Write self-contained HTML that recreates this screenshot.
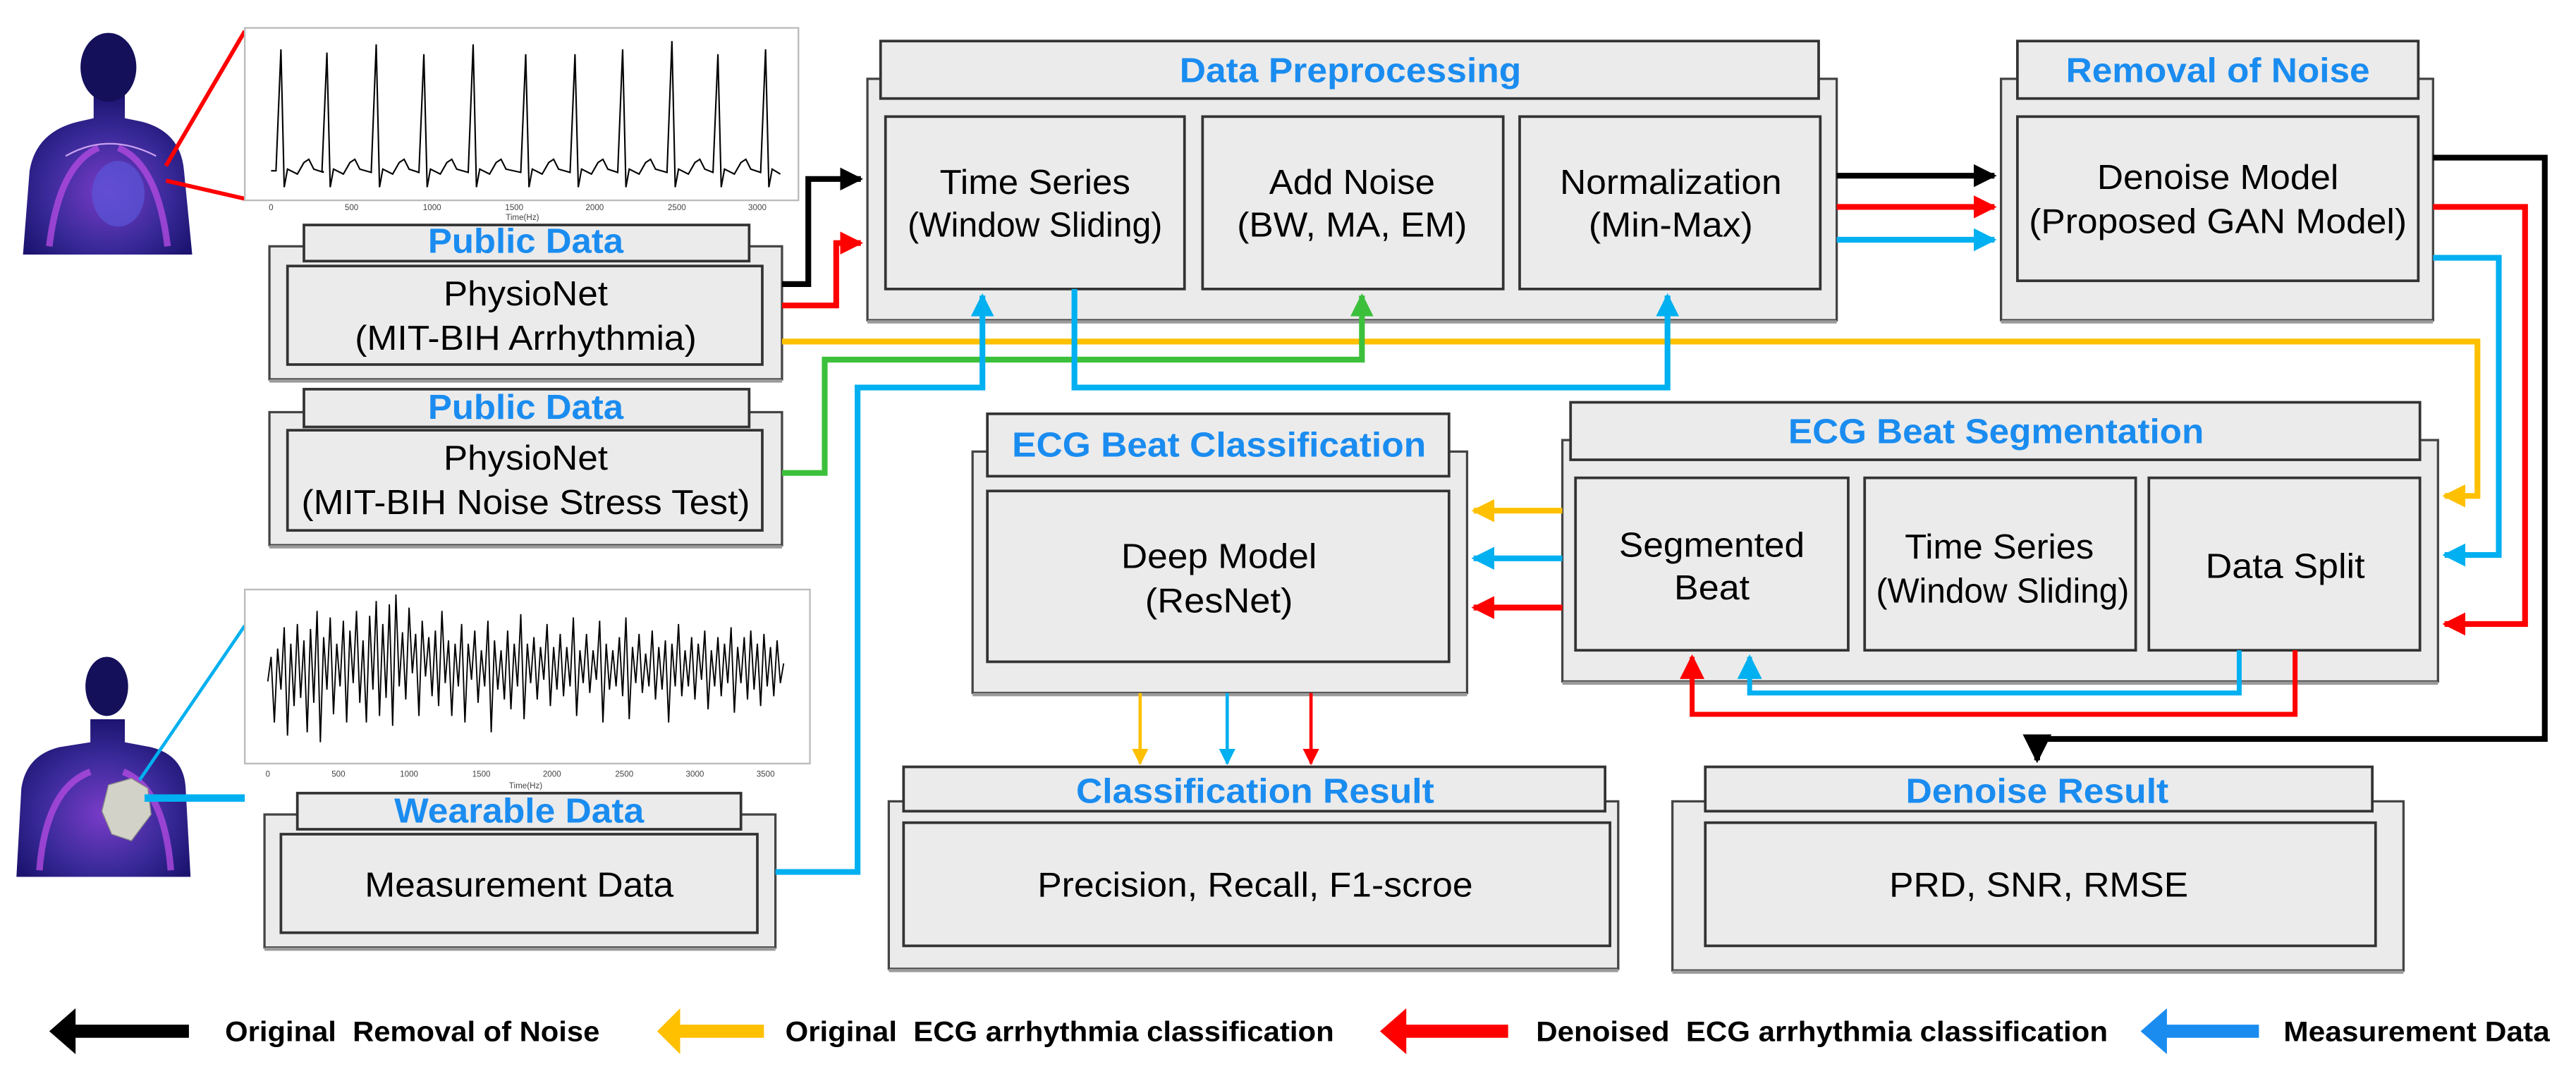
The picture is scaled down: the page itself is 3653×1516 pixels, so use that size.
<!DOCTYPE html>
<html><head><meta charset="utf-8"><style>
html,body{margin:0;padding:0;background:#fff;width:3653px;height:1516px;overflow:hidden}
svg{display:block}
.o{fill:#ebebeb;stroke:#444;stroke-width:1.4}
.t{fill:#ebebeb;stroke:#333;stroke-width:1.6}
.sh{fill:#9a9a9a}
.bt{font-family:"Liberation Sans",sans-serif;font-size:21px;fill:#000;text-anchor:middle}
.tt{font-family:"Liberation Sans",sans-serif;font-size:21px;font-weight:bold;fill:#1a8cf0;text-anchor:middle}
.lg{font-family:"Liberation Sans",sans-serif;font-size:17px;font-weight:bold;fill:#000}
.ax{font-family:"Liberation Sans",sans-serif;font-size:5px;fill:#444;text-anchor:middle}
.c{fill:none;stroke-width:3.5;stroke-linejoin:miter}
</style></head><body>
<svg width="3653" height="1516" viewBox="0 0 1568 651" preserveAspectRatio="none" xmlns="http://www.w3.org/2000/svg">
<defs>
<marker id="mk" viewBox="0 0 10 10" refX="9" refY="5" markerWidth="4" markerHeight="4" orient="auto"><path d="M0,0L10,5L0,10z" fill="#000"/></marker>
<marker id="mr" viewBox="0 0 10 10" refX="9" refY="5" markerWidth="4" markerHeight="4" orient="auto"><path d="M0,0L10,5L0,10z" fill="#ff0000"/></marker>
<marker id="my" viewBox="0 0 10 10" refX="9" refY="5" markerWidth="4" markerHeight="4" orient="auto"><path d="M0,0L10,5L0,10z" fill="#ffc000"/></marker>
<marker id="mb" viewBox="0 0 10 10" refX="9" refY="5" markerWidth="4" markerHeight="4" orient="auto"><path d="M0,0L10,5L0,10z" fill="#00b0f0"/></marker>
<marker id="mg" viewBox="0 0 10 10" refX="9" refY="5" markerWidth="4" markerHeight="4" orient="auto"><path d="M0,0L10,5L0,10z" fill="#3cc03c"/></marker>
<marker id="mb2" viewBox="0 0 10 10" refX="9" refY="5" markerWidth="5" markerHeight="6" orient="auto"><path d="M0,0L10,5L0,10z" fill="#00b0f0"/></marker>
<marker id="mr2" viewBox="0 0 10 10" refX="9" refY="5" markerWidth="5" markerHeight="6" orient="auto"><path d="M0,0L10,5L0,10z" fill="#ff0000"/></marker>
<marker id="my2" viewBox="0 0 10 10" refX="9" refY="5" markerWidth="5" markerHeight="6" orient="auto"><path d="M0,0L10,5L0,10z" fill="#ffc000"/></marker>
<marker id="mk2" viewBox="0 0 10 10" refX="9" refY="5" markerWidth="5" markerHeight="6" orient="auto"><path d="M0,0L10,5L0,10z" fill="#000"/></marker>
<radialGradient id="bod" cx="0.5" cy="0.6" r="0.6"><stop offset="0" stop-color="#7a3cc8"/><stop offset="0.6" stop-color="#3a2a9a"/><stop offset="1" stop-color="#1c1470"/></radialGradient>
</defs>

<!-- person 1 -->
<g>
<path d="M14,155 L18,104 Q22,80 48,74 L57,72 L57,58 L76,58 L76,72 L86,74 Q110,80 112,104 L117,155 Z" fill="url(#bod)"/>
<ellipse cx="66" cy="41" rx="17" ry="21" fill="#14105a"/>
<path d="M30,150 Q36,100 60,90 M102,150 Q96,100 72,90" stroke="#b04ae0" stroke-width="4" fill="none" opacity="0.8"/>
<ellipse cx="72" cy="118" rx="16" ry="20" fill="#5a56d8" opacity="0.7"/>
<path d="M40,95 Q66,80 95,95" stroke="#c9a0f0" stroke-width="1" fill="none"/>
</g>
<line x1="101" y1="101" x2="149" y2="19" stroke="#ff0000" stroke-width="2.5"/>
<line x1="101" y1="110" x2="149" y2="121" stroke="#ff0000" stroke-width="2.5"/>
<!-- plot 1 -->
<rect x="149" y="17" width="337" height="105" fill="#fff" stroke="#bbb" stroke-width="1"/>
<path fill="none" stroke="#000" stroke-width="0.9" d="M165,104 L168,104 L171,30 L173,114 L175,103 L181,106 L185,99 L188,97 L191,103 L197,105 L196,104 L199,32 L201,114 L203,103 L209,106 L213,99 L216,97 L219,103 L226,105 L226,104 L229,27 L231,114 L233,103 L239,106 L243,99 L246,97 L249,103 L255,105 L258,33 L260,114 L262,103 L268,106 L272,99 L275,97 L278,103 L285,105 L288,27 L290,114 L292,103 L298,106 L302,99 L305,97 L308,103 L317,105 L320,33 L322,114 L324,103 L330,106 L334,99 L337,97 L340,103 L347,105 L350,33 L352,114 L354,103 L360,106 L364,99 L367,97 L370,103 L376,105 L379,30 L381,114 L383,103 L389,106 L393,99 L396,97 L399,103 L406,105 L409,25 L411,114 L413,103 L419,106 L423,99 L426,97 L429,103 L434,105 L437,33 L439,114 L441,103 L447,106 L451,99 L454,97 L457,103 L463,105 L466,30 L468,114 L470,103 L475,106"/>
<g class="ax"><text x="165" y="128">0</text><text x="214" y="128">500</text><text x="263" y="128">1000</text><text x="313" y="128">1500</text><text x="362" y="128">2000</text><text x="412" y="128">2500</text><text x="461" y="128">3000</text><text x="318" y="134">Time(Hz)</text></g>

<!-- person 2 -->
<g>
<path d="M10,534 L13,480 Q16,460 36,455 L55,452 L55,438 L76,438 L76,452 L92,455 Q112,460 113,480 L116,534 Z" fill="url(#bod)"/>
<ellipse cx="65" cy="418" rx="13" ry="18" fill="#14105a"/>
<path d="M24,530 Q28,480 55,470 M104,530 Q100,480 75,470" stroke="#b04ae0" stroke-width="4" fill="none" opacity="0.8"/>
<path d="M66,478 L80,474 L90,480 L92,496 L80,512 L68,508 L62,494 Z" fill="#d2d2c8" stroke="#888" stroke-width="0.6"/>
</g>
<line x1="85" y1="475" x2="149" y2="381" stroke="#00b0f0" stroke-width="2"/>
<line x1="88" y1="486" x2="149" y2="486" stroke="#00b0f0" stroke-width="4.5"/>
<!-- plot 2 -->
<rect x="149" y="359" width="344" height="106" fill="#fff" stroke="#bbb" stroke-width="1"/>
<path fill="none" stroke="#000" stroke-width="0.8" d="M163,415 L165,400 L167,440 L169,395 L171,420 L173,382 L175,448 L177,392 L179,430 L181,380 L183,425 L185,390 L187,446 L189,383 L191,428 L193,372 L195,452 L197,388 L199,420 L201,376 L203,435 L205,392 L207,418 L209,378 L211,440 L213,384 L215,416 L217,372 L219,428 L221,390 L223,440 L225,375 L227,420 L229,366 L231,436 L233,380 L235,425 L237,368 L239,442 L241,362 L243,418 L245,385 L247,426 L249,370 L251,410 L253,386 L255,436 L257,378 L259,412 L261,388 L263,424 L265,384 L267,430 L269,372 L271,416 L273,390 L275,436 L277,392 L279,418 L281,380 L283,440 L285,392 L287,414 L289,384 L291,428 L293,396 L295,418 L297,378 L299,446 L301,390 L303,420 L305,396 L307,426 L309,384 L311,432 L313,392 L315,418 L317,374 L319,438 L321,392 L323,416 L325,388 L327,426 L329,394 L331,414 L333,380 L335,430 L337,394 L339,420 L341,386 L343,424 L345,394 L347,418 L349,376 L351,436 L353,396 L355,416 L357,386 L359,422 L361,396 L363,414 L365,378 L367,440 L369,392 L371,420 L373,396 L375,418 L377,388 L379,424 L381,376 L383,438 L385,394 L387,416 L389,386 L391,422 L393,398 L395,418 L397,384 L399,426 L401,394 L403,420 L405,390 L407,440 L409,392 L411,418 L413,380 L415,424 L417,396 L419,418 L421,388 L423,426 L425,392 L427,414 L429,384 L431,432 L433,396 L435,418 L437,388 L439,424 L441,392 L443,416 L445,382 L447,434 L449,394 L451,416 L453,388 L455,426 L457,384 L459,420 L461,392 L463,430 L465,386 L467,418 L469,394 L471,424 L473,390 L475,416 L477,404"/>
<g class="ax"><text x="163" y="473">0</text><text x="206" y="473">500</text><text x="249" y="473">1000</text><text x="293" y="473">1500</text><text x="336" y="473">2000</text><text x="380" y="473">2500</text><text x="423" y="473">3000</text><text x="466" y="473">3500</text><text x="320" y="480">Time(Hz)</text></g>

<!-- Public Data 1 -->
<rect class="o" x="164" y="150" width="312" height="81"/><rect class="sh" x="164" y="231" width="312" height="2"/>
<rect class="t" x="185" y="137" width="271" height="22"/>
<rect class="t" x="175" y="162" width="289" height="60"/>
<text class="tt" x="320" y="154" textLength="119" lengthAdjust="spacingAndGlyphs">Public Data</text>
<text class="bt" x="320" y="186" textLength="100" lengthAdjust="spacingAndGlyphs">PhysioNet</text>
<text class="bt" x="320" y="213" textLength="208" lengthAdjust="spacingAndGlyphs">(MIT-BIH Arrhythmia)</text>
<!-- Public Data 2 -->
<rect class="o" x="164" y="251" width="312" height="81"/><rect class="sh" x="164" y="332" width="312" height="2"/>
<rect class="t" x="185" y="237" width="271" height="23"/>
<rect class="t" x="175" y="262" width="289" height="61"/>
<text class="tt" x="320" y="255" textLength="119" lengthAdjust="spacingAndGlyphs">Public Data</text>
<text class="bt" x="320" y="286" textLength="100" lengthAdjust="spacingAndGlyphs">PhysioNet</text>
<text class="bt" x="320" y="313" textLength="273" lengthAdjust="spacingAndGlyphs">(MIT-BIH Noise Stress Test)</text>

<!-- Data Preprocessing -->
<rect class="o" x="528" y="48" width="590" height="147"/><rect class="sh" x="528" y="195" width="590" height="2"/>
<rect class="t" x="536" y="25" width="571" height="35"/>
<rect class="t" x="539" y="71" width="182" height="105"/>
<rect class="t" x="732" y="71" width="183" height="105"/>
<rect class="t" x="925" y="71" width="183" height="105"/>
<text class="tt" x="822" y="50" textLength="208" lengthAdjust="spacingAndGlyphs">Data Preprocessing</text>
<text class="bt" x="630" y="118" textLength="116" lengthAdjust="spacingAndGlyphs">Time Series</text>
<text class="bt" x="630" y="144" textLength="155" lengthAdjust="spacingAndGlyphs">(Window Sliding)</text>
<text class="bt" x="823" y="118" textLength="101" lengthAdjust="spacingAndGlyphs">Add Noise</text>
<text class="bt" x="823" y="144" textLength="140" lengthAdjust="spacingAndGlyphs">(BW, MA, EM)</text>
<text class="bt" x="1017" y="118" textLength="135" lengthAdjust="spacingAndGlyphs">Normalization</text>
<text class="bt" x="1017" y="144" textLength="100" lengthAdjust="spacingAndGlyphs">(Min-Max)</text>

<!-- Removal of Noise -->
<rect class="o" x="1218" y="48" width="263" height="147"/><rect class="sh" x="1218" y="195" width="263" height="2"/>
<rect class="t" x="1228" y="25" width="244" height="35"/>
<rect class="t" x="1228" y="71" width="244" height="100"/>
<text class="tt" x="1350" y="50" textLength="185" lengthAdjust="spacingAndGlyphs">Removal of Noise</text>
<text class="bt" x="1350" y="115" textLength="147" lengthAdjust="spacingAndGlyphs">Denoise Model</text>
<text class="bt" x="1350" y="142" textLength="230" lengthAdjust="spacingAndGlyphs">(Proposed GAN Model)</text>

<!-- ECG Beat Classification -->
<rect class="o" x="592" y="275" width="301" height="147"/><rect class="sh" x="592" y="422" width="301" height="2"/>
<rect class="t" x="601" y="252" width="281" height="38"/>
<rect class="t" x="601" y="299" width="281" height="104"/>
<text class="tt" x="742" y="278" textLength="252" lengthAdjust="spacingAndGlyphs">ECG Beat Classification</text>
<text class="bt" x="742" y="346" textLength="119" lengthAdjust="spacingAndGlyphs">Deep Model</text>
<text class="bt" x="742" y="373" textLength="90" lengthAdjust="spacingAndGlyphs">(ResNet)</text>

<!-- ECG Beat Segmentation -->
<rect class="o" x="951" y="268" width="533" height="147"/><rect class="sh" x="951" y="415" width="533" height="2"/>
<rect class="t" x="956" y="245" width="517" height="35"/>
<rect class="t" x="959" y="291" width="166" height="105"/>
<rect class="t" x="1135" y="291" width="165" height="105"/>
<rect class="t" x="1308" y="291" width="165" height="105"/>
<text class="tt" x="1215" y="270" textLength="253" lengthAdjust="spacingAndGlyphs">ECG Beat Segmentation</text>
<text class="bt" x="1042" y="339" textLength="113" lengthAdjust="spacingAndGlyphs">Segmented</text>
<text class="bt" x="1042" y="365" textLength="46" lengthAdjust="spacingAndGlyphs">Beat</text>
<text class="bt" x="1217" y="340" textLength="115" lengthAdjust="spacingAndGlyphs">Time Series</text>
<text class="bt" x="1219" y="367" textLength="154" lengthAdjust="spacingAndGlyphs">(Window Sliding)</text>
<text class="bt" x="1391" y="352" textLength="97" lengthAdjust="spacingAndGlyphs">Data Split</text>

<!-- Classification Result -->
<rect class="o" x="541" y="488" width="444" height="102"/><rect class="sh" x="541" y="590" width="444" height="2"/>
<rect class="t" x="550" y="467" width="427" height="27"/>
<rect class="t" x="550" y="501" width="430" height="75"/>
<text class="tt" x="764" y="489" textLength="218" lengthAdjust="spacingAndGlyphs">Classification Result</text>
<text class="bt" x="764" y="546" textLength="265" lengthAdjust="spacingAndGlyphs">Precision, Recall, F1-scroe</text>

<!-- Denoise Result -->
<rect class="o" x="1018" y="488" width="445" height="103"/><rect class="sh" x="1018" y="591" width="445" height="2"/>
<rect class="t" x="1038" y="467" width="406" height="27"/>
<rect class="t" x="1038" y="501" width="408" height="75"/>
<text class="tt" x="1240" y="489" textLength="160" lengthAdjust="spacingAndGlyphs">Denoise Result</text>
<text class="bt" x="1241" y="546" textLength="182" lengthAdjust="spacingAndGlyphs">PRD, SNR, RMSE</text>

<!-- Wearable Data -->
<rect class="o" x="161" y="496" width="311" height="81"/><rect class="sh" x="161" y="577" width="311" height="2"/>
<rect class="t" x="181" y="483" width="270" height="22"/>
<rect class="t" x="171" y="508" width="290" height="60"/>
<text class="tt" x="316" y="501" textLength="152" lengthAdjust="spacingAndGlyphs">Wearable Data</text>
<text class="bt" x="316" y="546" textLength="188" lengthAdjust="spacingAndGlyphs">Measurement Data</text>

<!-- connectors (on top) -->
<path class="c" stroke="#ffc000" d="M476,208 H1508 V302 H1488" marker-end="url(#my)"/>
<path class="c" stroke="#3cc03c" d="M476,288 H502 V219 H829 V180" marker-end="url(#mg)"/>
<path class="c" stroke="#00b0f0" d="M472,531 H522 V236 H598 V180" marker-end="url(#mb)"/>
<path class="c" stroke="#00b0f0" d="M654,176 V236 H1015 V180" marker-end="url(#mb)"/>
<path class="c" stroke="#000" d="M476,173 H492 V109 H524" marker-end="url(#mk)"/>
<path class="c" stroke="#ff0000" d="M476,186 H509 V148 H524" marker-end="url(#mr)"/>
<path class="c" stroke="#000" d="M1118,107 H1214" marker-end="url(#mk)"/>
<path class="c" stroke="#ff0000" d="M1118,126 H1214" marker-end="url(#mr)"/>
<path class="c" stroke="#00b0f0" d="M1118,146 H1214" marker-end="url(#mb)"/>
<path class="c" stroke="#000" d="M1481,96 H1549 V450 H1240 V463" marker-end="url(#mk2)"/>
<path class="c" stroke="#ff0000" d="M1481,126 H1537 V380 H1488" marker-end="url(#mr)"/>
<path class="c" stroke="#00b0f0" d="M1481,157 H1521 V338 H1488" marker-end="url(#mb)"/>
<path class="c" stroke="#ffc000" d="M951,311 H897" marker-end="url(#my)"/>
<path class="c" stroke="#00b0f0" d="M951,340 H897" marker-end="url(#mb)"/>
<path class="c" stroke="#ff0000" d="M951,370 H897" marker-end="url(#mr)"/>
<path fill="none" stroke-width="2" stroke="#ffc000" d="M694,422 V465" marker-end="url(#my2)"/>
<path fill="none" stroke-width="2" stroke="#00b0f0" d="M747,422 V465" marker-end="url(#mb2)"/>
<path fill="none" stroke-width="2" stroke="#ff0000" d="M798,422 V465" marker-end="url(#mr2)"/>
<path fill="none" stroke-width="3" stroke="#ff0000" d="M1397,396 V435 H1030 V400" marker-end="url(#mr2)"/>
<path fill="none" stroke-width="3" stroke="#00b0f0" d="M1363,396 V422 H1065 V400" marker-end="url(#mb2)"/>

<!-- legend -->
<path d="M30,628 L46,614 L46,624 L115,624 L115,632 L46,632 L46,642 Z" fill="#000"/>
<text class="lg" x="137" y="634" textLength="228" lengthAdjust="spacingAndGlyphs" xml:space="preserve">Original  Removal of Noise</text>
<path d="M400,628 L414,614 L414,624 L465,624 L465,632 L414,632 L414,642 Z" fill="#ffc000"/>
<text class="lg" x="478" y="634" textLength="334" lengthAdjust="spacingAndGlyphs" xml:space="preserve">Original  ECG arrhythmia classification</text>
<path d="M840,628 L856,614 L856,624 L918,624 L918,632 L856,632 L856,642 Z" fill="#ff0000"/>
<text class="lg" x="935" y="634" textLength="348" lengthAdjust="spacingAndGlyphs" xml:space="preserve">Denoised  ECG arrhythmia classification</text>
<path d="M1303,628 L1319,614 L1319,624 L1375,624 L1375,632 L1319,632 L1319,642 Z" fill="#1a8cf0"/>
<text class="lg" x="1390" y="634" textLength="162" lengthAdjust="spacingAndGlyphs">Measurement Data</text>
</svg>
</body></html>
